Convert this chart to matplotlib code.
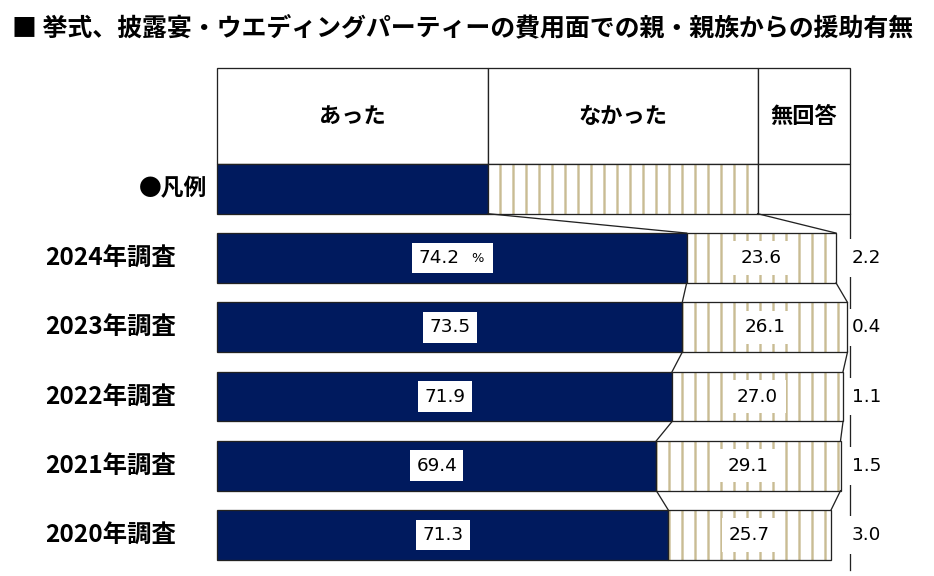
import numpy as np
import matplotlib.pyplot as plt
from matplotlib.patches import Rectangle

plt.rcParams['font.family'] = ['Noto Sans CJK JP', 'DejaVu Sans']
plt.rcParams['hatch.linewidth'] = 2.2

title = '■ 挙式、披露宴・ウエディングパーティーの費用面での親・親族からの援助有無'
years = ['2024年調査', '2023年調査', '2022年調査', '2021年調査', '2020年調査']
atta = [74.2, 73.5, 71.9, 69.4, 71.3]
nakatta = [23.6, 26.1, 27.0, 29.1, 25.7]
mukaitou = [2.2, 0.4, 1.1, 1.5, 3.0]
headers = ['あった', 'なかった', '無回答']
legend_label = '●凡例'

navy = '#001a5e'
tan = '#c9bc93'
edge = '#222222'
num_font = ['DejaVu Sans']

DPI = 78
fig = plt.figure(figsize=(934 / DPI, 576 / DPI), dpi=DPI)
ax = fig.add_axes([0, 0, 1, 1])
ax.set_xlim(-34.28, 113.27)
ax.set_ylim(4.592, -3.726)
ax.axis('off')

y = np.arange(len(years))
h = 0.72
a = np.array(atta)
n = np.array(nakatta)
m = np.array(mukaitou)

# right axis line (broken by the label boxes)
ax.plot([100, 100], [-1 + h / 2, 4 + h / 2 + 0.15], color=edge, lw=1.2, zorder=1)

ax.barh(y, a, height=h, color=navy, edgecolor=edge, linewidth=1.2, zorder=3)
ax.barh(y, n, left=a, height=h, color='white', edgecolor=tan, linewidth=0, hatch='|', zorder=3)
ax.barh(y, n, left=a, height=h, color='none', edgecolor=edge, linewidth=1.2, zorder=3)

# legend row + header
split = [0, 42.8, 85.4, 100]
hy, hh = -2.05, 1.386
for i in range(3):
    ax.add_patch(Rectangle((split[i], hy - hh / 2), split[i + 1] - split[i], hh,
                           facecolor='white', edgecolor=edge, lw=1.2, zorder=3))
    ax.text((split[i] + split[i + 1]) / 2, hy, headers[i], ha='center', va='center',
            fontsize=20.5, fontweight='bold', zorder=4)
ax.add_patch(Rectangle((split[0], -1 - h / 2), split[1], h, facecolor=navy, edgecolor=edge, lw=1.2, zorder=3))
ax.add_patch(Rectangle((split[1], -1 - h / 2), split[2] - split[1], h, facecolor='white',
                       edgecolor=tan, lw=0, hatch='|', zorder=3))
ax.add_patch(Rectangle((split[1], -1 - h / 2), split[2] - split[1], h, facecolor='none',
                       edgecolor=edge, lw=1.2, zorder=3))
ax.add_patch(Rectangle((split[2], -1 - h / 2), split[3] - split[2], h, facecolor='white',
                       edgecolor=edge, lw=1.2, zorder=3))
ax.text(-1.5, -1, legend_label, ha='right', va='center', fontsize=21, fontweight='bold')

# connector lines
prev = [split[1], split[2]]
prev_y = -1 + h / 2
for i in range(len(years)):
    cur = [a[i], a[i] + n[i]]
    for p, c in zip(prev, cur):
        ax.plot([p, c], [prev_y, y[i] - h / 2], color=edge, lw=1.2, zorder=3)
    prev = cur
    prev_y = y[i] + h / 2

# labels
for i in range(len(years)):
    ax.text(-6.5, y[i], years[i], ha='right', va='center', fontsize=22.5, fontweight='bold')
    if i == 0:
        # number box + small "%" box joined into one white box
        ax.annotate(f'{a[i]:.1f}', (a[i] / 2, y[i]), xytext=(-12, 0), textcoords='offset points',
                    ha='center', va='center', fontsize=17, family=num_font,
                    bbox=dict(facecolor='white', edgecolor='none', pad=6), zorder=6)
        ax.annotate('%', (a[i] / 2, y[i]), xytext=(18, 0), textcoords='offset points',
                    ha='left', va='center', fontsize=12, family=num_font,
                    bbox=dict(facecolor='white', edgecolor='none', pad=8.2), zorder=5)
    else:
        ax.text(a[i] / 2, y[i], f'{a[i]:.1f}', ha='center', va='center', fontsize=17, family=num_font,
                bbox=dict(facecolor='white', edgecolor='none', pad=6), zorder=5)
    ax.text(a[i] + n[i] / 2, y[i], f'{n[i]:.1f}', ha='center', va='center', fontsize=17,
            family=num_font, bbox=dict(facecolor='white', edgecolor='none', pad=7), zorder=5)
    ax.text(102.6, y[i], f'{m[i]:.1f}', ha='center', va='center', fontsize=17, family=num_font,
            bbox=dict(facecolor='white', edgecolor='none', pad=9), zorder=2)

fig.text(12 / 934, 1 - 28 / 576, title, ha='left', va='center', fontsize=23, fontweight='bold')

fig.savefig('out.png', dpi=DPI)
